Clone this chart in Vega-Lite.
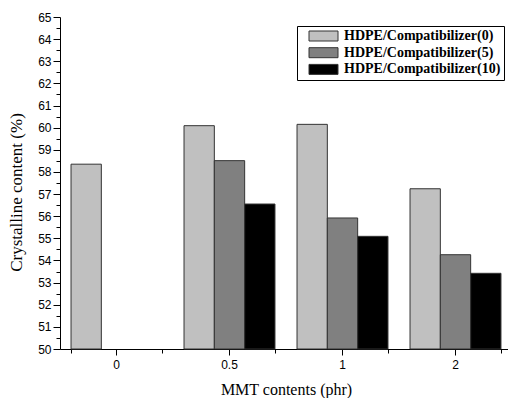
{
  "$schema": "https://vega.github.io/schema/vega-lite/v6.json",
  "width": 452,
  "height": 332,
  "autosize": "none",
  "padding": {"left": 60, "top": 17, "right": 0, "bottom": 49},
  "background": "white",
  "config": {"view": {"stroke": null}, "axis": {"labelOverlap": false}},
  "data": {
    "values": [
      {"mmt": "0", "series": "HDPE/Compatibilizer(0)", "value": 58.35},
      {"mmt": "0.5", "series": "HDPE/Compatibilizer(0)", "value": 60.09},
      {"mmt": "0.5", "series": "HDPE/Compatibilizer(5)", "value": 58.51},
      {"mmt": "0.5", "series": "HDPE/Compatibilizer(10)", "value": 56.55},
      {"mmt": "1", "series": "HDPE/Compatibilizer(0)", "value": 60.15},
      {"mmt": "1", "series": "HDPE/Compatibilizer(5)", "value": 55.92},
      {"mmt": "1", "series": "HDPE/Compatibilizer(10)", "value": 55.09},
      {"mmt": "2", "series": "HDPE/Compatibilizer(0)", "value": 57.24},
      {"mmt": "2", "series": "HDPE/Compatibilizer(5)", "value": 54.26},
      {"mmt": "2", "series": "HDPE/Compatibilizer(10)", "value": 53.42}
    ]
  },
  "layer": [
    {
      "mark": {"type": "bar", "stroke": "#333333", "strokeWidth": 1},
      "encoding": {
        "x": {
          "field": "mmt", "type": "nominal", "sort": ["0", "0.5", "1", "2"],
          "scale": {"paddingInner": 0.195, "paddingOuter": 0.0975},
          "axis": {
            "title": "MMT contents (phr)", "titleFont": "Liberation Serif", "titleFontSize": 16,
            "titleFontWeight": "normal", "titleColor": "black", "titlePadding": 11,
            "labelAngle": 0, "labelFont": "Liberation Sans", "labelFontSize": 12, "labelColor": "black",
            "labelPadding": 4, "tickSize": 6, "tickColor": "black", "domainColor": "black", "grid": false
          }
        },
        "xOffset": {"field": "series", "type": "nominal", "sort": ["HDPE/Compatibilizer(0)", "HDPE/Compatibilizer(5)", "HDPE/Compatibilizer(10)"], "scale": {"paddingInner": 0, "paddingOuter": 0}},
        "y": {
          "field": "value", "type": "quantitative",
          "scale": {"domain": [50, 65], "zero": false, "nice": false},
          "axis": {
            "title": "Crystalline content (%)", "titleFont": "Liberation Serif", "titleFontSize": 17,
            "titleFontWeight": "normal", "titleColor": "black", "titleX": -35, "titleY": 175,
            "values": [50, 50.5, 51, 51.5, 52, 52.5, 53, 53.5, 54, 54.5, 55, 55.5, 56, 56.5, 57, 57.5, 58, 58.5, 59, 59.5, 60, 60.5, 61, 61.5, 62, 62.5, 63, 63.5, 64, 64.5, 65],
            "labelExpr": "datum.value % 1 === 0 ? format(datum.value, 'd') : ''",
            "labelOverlap": false, "labelFlush": false,
            "tickSize": {"condition": {"test": "datum.value % 1 === 0", "value": 7}, "value": 4},
            "labelFont": "Liberation Sans", "labelFontSize": 12, "labelColor": "black", "labelPadding": 2,
            "tickColor": "black", "domainColor": "black", "grid": false
          }
        },
        "y2": {"datum": 50},
        "color": {
          "field": "series", "type": "nominal",
          "scale": {"domain": ["HDPE/Compatibilizer(0)", "HDPE/Compatibilizer(5)", "HDPE/Compatibilizer(10)"], "range": ["#c0c0c0", "#808080", "#000000"]},
          "legend": {
            "title": null, "orient": "none", "legendX": 237, "legendY": 9,
            "strokeColor": "black", "fillColor": "white", "padding": 3,
            "symbolType": "M0.4,-1H6.2V1H0.4Z", "symbolSize": 100,
            "symbolStrokeColor": "#333333", "symbolStrokeWidth": 1, "symbolOpacity": 1,
            "labelFont": "Liberation Serif", "labelFontWeight": "bold", "labelFontSize": 14,
            "labelColor": "black", "labelOffset": 30, "rowPadding": 2.7, "labelLimit": 300
          }
        }
      }
    },
    {
      "mark": {"type": "bar", "opacity": 0},
      "encoding": {
        "x": {
          "field": "mmt", "type": "nominal", "sort": ["0", "0.5", "1", "2"],
          "axis": {"orient": "bottom", "title": null, "labels": false, "domain": false, "tickBand": "extent", "tickSize": 4, "tickColor": "black", "grid": false}
        }
      }
    }
  ],
  "resolve": {"axis": {"x": "independent"}}
}
